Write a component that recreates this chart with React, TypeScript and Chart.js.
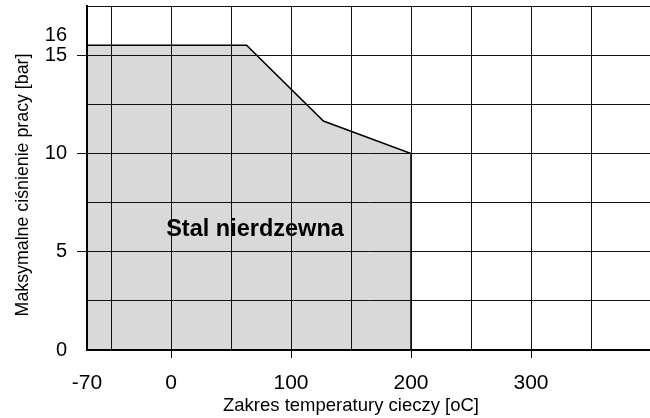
import React, { useEffect, useRef } from "react";
import { Chart, registerables } from "chart.js";

Chart.register(...registerables);

// ---- data ----
const temperatures = [-70, 63, 127, 200, 200];
const pressures = [15.5, 15.5, 11.65, 10, 0];

const xTickValues = [-70, -50, 0, 50, 100, 150, 200, 250, 300, 350, 400];
const xTickLabels = [-70, 0, 100, 200, 300];
const xTickMarks = [0, 100, 200, 300];

const yTickValues = [0, 2.5, 5, 7.5, 10, 12.5, 15, 16, 17.5];
const yTickLabels = [0, 5, 10, 15, 16];
const yTickMarks = [5, 10, 15];
const yNoGrid = [16];

const xTitle = "Zakres temperatury cieczy [oC]";
const yTitle = "Maksymalne ciśnienie pracy [bar]";
const areaLabel = "Stal nierdzewna";
const areaLabelAt = { x: 70, y: 6.15 };

const FONT = '"Liberation Sans", Arial, Helvetica, sans-serif';

export default function App() {
  const ref = useRef<HTMLCanvasElement | null>(null);

  useEffect(() => {
    const canvas = ref.current;
    if (!canvas) return;

    const overlayPlugin = {
      id: "overlay",
      afterDatasetsDraw(chart: any) {
        const { ctx, scales, chartArea } = chart;
        ctx.save();
        ctx.fillStyle = "#000";
        ctx.font = `bold 23.5px ${FONT}`;
        ctx.textAlign = "center";
        ctx.textBaseline = "middle";
        ctx.fillText(
          areaLabel,
          scales.x.getPixelForValue(areaLabelAt.x),
          scales.y.getPixelForValue(areaLabelAt.y)
        );
        ctx.restore();
        // redraw the library's grid and borders on top of the filled area
        scales.x.drawGrid(chartArea);
        scales.y.drawGrid(chartArea);
        scales.x.drawBorder();
        scales.y.drawBorder();
      },
      afterDraw(chart: any) {
        const { ctx } = chart;
        ctx.save();
        ctx.fillStyle = "#000";
        ctx.font = `18.5px ${FONT}`;
        ctx.textAlign = "center";
        ctx.textBaseline = "middle";
        ctx.fillText(xTitle, 351, 406);
        ctx.font = `17.8px ${FONT}`;
        ctx.translate(23, 185);
        ctx.rotate(-Math.PI / 2);
        ctx.fillText(yTitle, 0, 0);
        ctx.restore();
      },
    };

    const chart = new Chart(canvas, {
      type: "line",
      data: {
        datasets: [
          {
            data: temperatures.map((t, i) => ({ x: t, y: pressures[i] })),
            borderColor: "#000",
            borderWidth: 1.5,
            backgroundColor: "#d9d9d9",
            fill: "origin",
            pointRadius: 0,
            tension: 0,
          },
        ],
      },
      options: {
        animation: false,
        responsive: false,
        devicePixelRatio: 1,
        layout: { padding: { top: 6, right: 9, left: 0, bottom: 0 } },
        plugins: { legend: { display: false }, tooltip: { enabled: false } },
        scales: {
          x: {
            type: "linear",
            min: -70,
            max: 400,
            afterBuildTicks: (s: any) => {
              s.ticks = xTickValues.map((v) => ({ value: v }));
            },
            afterFit: (s: any) => {
              s.height = 68;
              s.paddingLeft = 0;
              s.paddingRight = 0;
            },
            ticks: {
              autoSkip: false,
              maxRotation: 0,
              padding: 13,
              color: "#000",
              font: { family: FONT, size: 21 },
              callback: (v: any) => (xTickLabels.includes(Number(v)) ? String(v) : ""),
            },
            grid: {
              color: "#111",
              lineWidth: 1,
              tickLength: 8,
              tickColor: (c: any) =>
                c.tick && xTickMarks.includes(c.tick.value) ? "#111" : "rgba(0,0,0,0)",
            },
            border: { display: true, color: "#000", width: 2 },
          },
          y: {
            type: "linear",
            min: 0,
            max: 17.5,
            afterBuildTicks: (s: any) => {
              s.ticks = yTickValues.map((v) => ({ value: v }));
            },
            afterFit: (s: any) => {
              s.width = 87;
              s.paddingTop = 0;
              s.paddingBottom = 0;
            },
            ticks: {
              autoSkip: false,
              padding: 10,
              color: "#000",
              font: { family: FONT, size: 20 },
              callback: (v: any) => (yTickLabels.includes(Number(v)) ? String(v) : ""),
            },
            grid: {
              color: (c: any) =>
                c.tick && yNoGrid.includes(c.tick.value) ? "rgba(0,0,0,0)" : "#111",
              lineWidth: 1,
              tickLength: 10,
              tickColor: (c: any) =>
                c.tick && yTickMarks.includes(c.tick.value) ? "#111" : "rgba(0,0,0,0)",
            },
            border: { display: true, color: "#000", width: 2 },
          },
        },
      },
      plugins: [overlayPlugin],
    } as any);

    return () => chart.destroy();
  }, []);

  return (
    <div
      style={{
        position: "fixed",
        left: 0,
        top: 0,
        width: 650,
        height: 418,
        overflow: "hidden",
        background: "#fff",
      }}
    >
      <canvas ref={ref} width={660} height={418} style={{ display: "block", width: 660, height: 418 }} />
    </div>
  );
}
